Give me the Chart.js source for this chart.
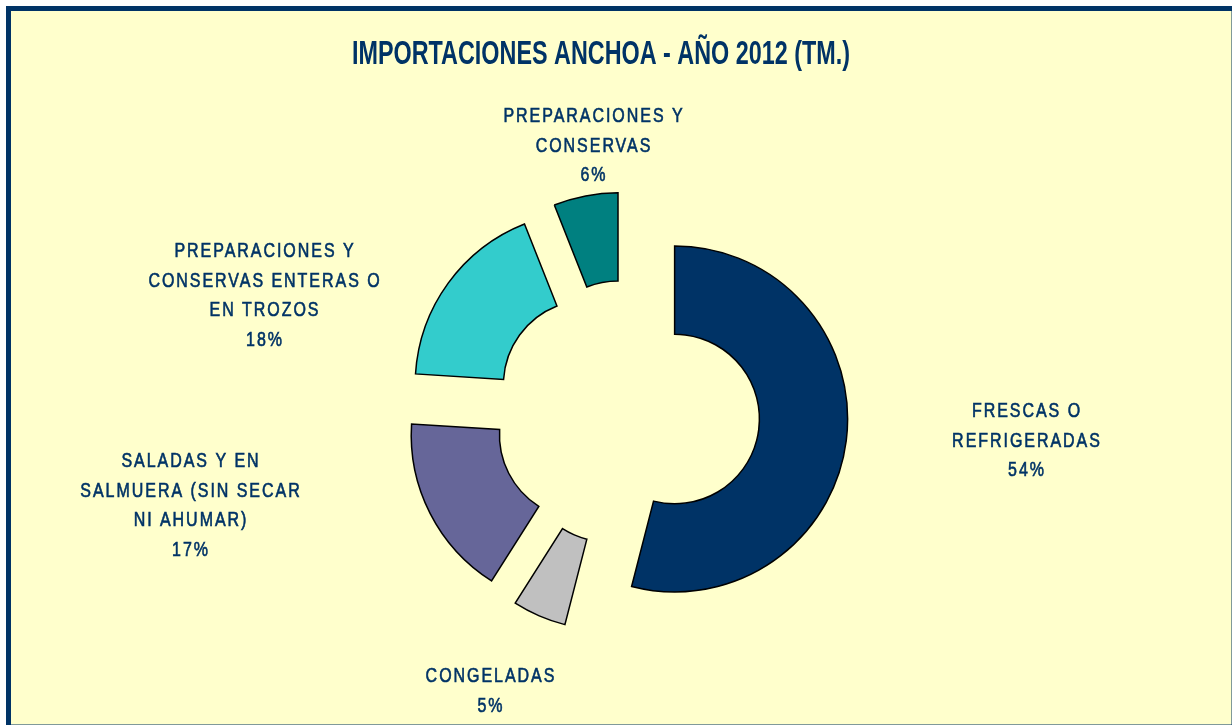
<!DOCTYPE html>
<html>
<head>
<meta charset="utf-8">
<script src="https://cdn.jsdelivr.net/npm/chart.js@4"></script>
<style>
  html, body { margin: 0; padding: 0; background: #fff; }
  canvas { display: block; }
</style>
</head>
<body>
<canvas id="anchoaChart" width="1232" height="725"></canvas>
<script>
// importaciones de anchoa 2012, % por tipo de producto
const categories = [
  "FRESCAS O REFRIGERADAS",
  "CONGELADAS",
  "SALADAS Y EN SALMUERA (SIN SECAR NI AHUMAR)",
  "PREPARACIONES Y CONSERVAS ENTERAS O EN TROZOS",
  "PREPARACIONES Y CONSERVAS",
];
const labelLines = [
  ["FRESCAS O", "REFRIGERADAS"],
  ["CONGELADAS"],
  ["SALADAS Y EN", "SALMUERA (SIN SECAR", "NI AHUMAR)"],
  ["PREPARACIONES Y", "CONSERVAS ENTERAS O", "EN TROZOS"],
  ["PREPARACIONES Y", "CONSERVAS"],
];
const shares = [54, 5, 17, 18, 6];

const sliceColors = ["#003366", "#C0C0C0", "#666699", "#33CCCC", "#008080"];
const navy = "#003366";
const labelAnchors = [[1026, 410], [490, 675], [190, 460], [264, 250], [593, 115]];
const explode = 48; // px each slice is pulled out along its mid angle

const frame = {
  id: "frame",
  beforeDraw(chart) {
    const c = chart.ctx;
    c.save();
    c.fillStyle = "#ffffff";
    c.fillRect(0, 0, chart.width, chart.height);
    c.fillStyle = "#FFFFCC";
    c.fillRect(8, 8, chart.width, chart.height);
    c.strokeStyle = navy;
    c.lineWidth = 5;
    c.strokeRect(8.5, 8.5, chart.width - 8.5 + 2, chart.height - 8.5 + 2);
    c.restore();
  },
  // draw the arcs ourselves, each one moved out by the same distance
  beforeDatasetDraw(chart, args) {
    const c = chart.ctx;
    args.meta.data.forEach((arc) => {
      const { startAngle, endAngle } = arc.getProps(["startAngle", "endAngle"]);
      const mid = (startAngle + endAngle) / 2;
      c.save();
      c.translate(Math.cos(mid) * explode, Math.sin(mid) * explode);
      arc.draw(c);
      c.restore();
    });
    return false;
  },
  afterDraw(chart) {
    const c = chart.ctx;
    c.save();
    c.fillStyle = navy;
    c.strokeStyle = navy;
    c.textAlign = "center";
    c.textBaseline = "alphabetic";

    // title, squeezed like a narrow face
    c.font = "bold 33px 'Liberation Sans', Arial, sans-serif";
    const title = "IMPORTACIONES ANCHOA - AÑO 2012 (TM.)";
    const tw = c.measureText(title).width;
    c.save();
    c.translate(601, 64);
    c.scale(498 / tw, 1);
    c.fillText(title, 0, 0);
    c.restore();

    // slice labels
    c.font = "19.5px 'Liberation Sans', Arial, sans-serif";
    c.letterSpacing = "2.4px";
    c.lineWidth = 0.6;
    labelLines.forEach((lines, i) => {
      const [x, y] = labelAnchors[i];
      const all = lines.concat([shares[i] + "%"]);
      all.forEach((t, j) => {
        c.save();
        c.translate(x + 1, y + 7 + j * 29.7);
        c.scale(0.82, 1);
        c.fillText(t, 0, 0);
        c.strokeText(t, 0, 0);
        c.restore();
      });
    });
    c.restore();
  },
};

new Chart(document.getElementById("anchoaChart").getContext("2d"), {
  type: "doughnut",
  data: {
    labels: categories,
    datasets: [
      {
        data: shares,
        backgroundColor: sliceColors,
        borderColor: "#000000",
        borderWidth: 1.5,
        borderJoinStyle: "miter",
        hoverOffset: 0,
      },
    ],
  },
  options: {
    responsive: false,
    animation: false,
    events: [],
    radius: 173,
    cutout: "49%",
    layout: { padding: { left: 22, right: 0, top: 101, bottom: 0 } },
    plugins: {
      legend: { display: false },
      title: { display: false },
      tooltip: { enabled: false },
    },
  },
  plugins: [frame],
});
</script>
</body>
</html>
